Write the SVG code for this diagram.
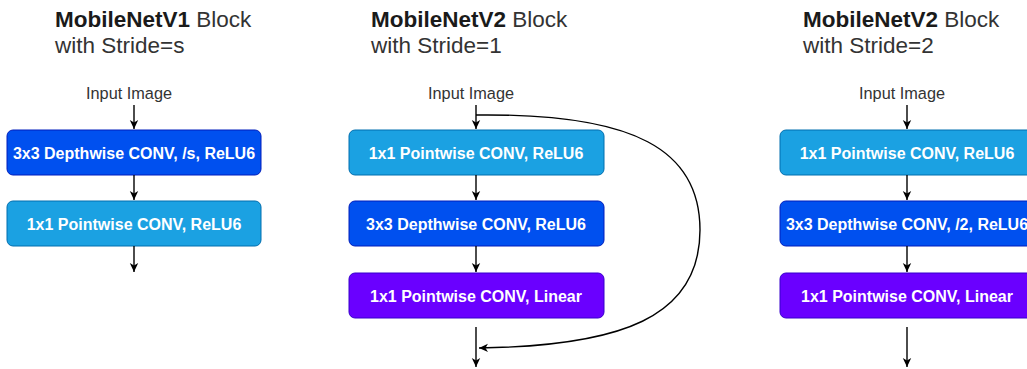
<svg xmlns="http://www.w3.org/2000/svg" width="1027" height="369" viewBox="0 0 1027 369">
<style>
.title{font-family:"Liberation Sans",Arial,sans-serif;font-size:22.5px;fill:#333}
.title .b{font-weight:bold;fill:#1a1a1a}
.in{font-family:"Liberation Sans",Arial,sans-serif;font-size:16.3px;fill:#333;text-anchor:middle}
.lbl{font-family:"Liberation Sans",Arial,sans-serif;font-size:16px;font-weight:bold;fill:#fff;text-anchor:middle}
.dw{fill:#0050EF;stroke:#001DBC;stroke-width:1}
.pw{fill:#1BA1E2;stroke:#006EAF;stroke-width:1}
.lin{fill:#6A00FF;stroke:#3700CC;stroke-width:1}
.c{fill:none;stroke:#000;stroke-width:1.4}
</style>
<defs>
<marker id="ah" markerWidth="10" markerHeight="10" refX="9" refY="5" orient="auto" markerUnits="userSpaceOnUse">
<path d="M0,0.8 L9,5 L0,9.2 L2.5,5 Z" fill="#000"/>
</marker>
</defs>
<g id="titles">
<text class="title" x="55" y="27"><tspan class="b">MobileNetV1</tspan> Block</text>
<text class="title" x="55" y="53">with Stride=s</text>
<text class="title" x="371" y="27"><tspan class="b">MobileNetV2</tspan> Block</text>
<text class="title" x="371" y="53">with Stride=1</text>
<text class="title" x="803" y="27"><tspan class="b">MobileNetV2</tspan> Block</text>
<text class="title" x="803" y="53">with Stride=2</text>
</g>
<g id="inputs">
<text class="in" x="129" y="99">Input Image</text>
<text class="in" x="471" y="99">Input Image</text>
<text class="in" x="902" y="99">Input Image</text>
</g>
<g id="v1-dw"><rect class="dw" x="7" y="130" width="254" height="45" rx="6"/><text class="lbl" x="134" y="158.5">3x3 Depthwise CONV, /s, ReLU6</text></g>
<g id="v1-pw"><rect class="pw" x="7" y="201" width="254" height="45" rx="6"/><text class="lbl" x="134" y="229.5">1x1 Pointwise CONV, ReLU6</text></g>
<g id="v2s1-pw1"><rect class="pw" x="349" y="130" width="255" height="45" rx="6"/><text class="lbl" x="476" y="158.5">1x1 Pointwise CONV, ReLU6</text></g>
<g id="v2s1-dw"><rect class="dw" x="349" y="201" width="255" height="45" rx="6"/><text class="lbl" x="476" y="229.5">3x3 Depthwise CONV, ReLU6</text></g>
<g id="v2s1-pw2"><rect class="lin" x="349" y="273" width="255" height="45" rx="6"/><text class="lbl" x="476" y="301.5">1x1 Pointwise CONV, Linear</text></g>
<g id="v2s2-pw1"><rect class="pw" x="780" y="130" width="255" height="45" rx="6"/><text class="lbl" x="907" y="158.5">1x1 Pointwise CONV, ReLU6</text></g>
<g id="v2s2-dw"><rect class="dw" x="780" y="201" width="255" height="45" rx="6"/><text class="lbl" x="907" y="229.5">3x3 Depthwise CONV, /2, ReLU6</text></g>
<g id="v2s2-pw2"><rect class="lin" x="780" y="273" width="255" height="45" rx="6"/><text class="lbl" x="907" y="301.5">1x1 Pointwise CONV, Linear</text></g>
<g id="connectors">
<path class="c" d="M134,105 V129" marker-end="url(#ah)"/>
<path class="c" d="M134,175 V200" marker-end="url(#ah)"/>
<path class="c" d="M134,246 V272" marker-end="url(#ah)"/>
<path class="c" d="M476,105 V129" marker-end="url(#ah)"/>
<path class="c" d="M476,175 V200" marker-end="url(#ah)"/>
<path class="c" d="M476,246 V272" marker-end="url(#ah)"/>
<path class="c" d="M476,327 V367" marker-end="url(#ah)"/>
<path class="c" d="M476,115 C635,113 700,150 700,230 C700,318 620,346 479,348" marker-end="url(#ah)"/>
<path class="c" d="M907,105 V129" marker-end="url(#ah)"/>
<path class="c" d="M907,175 V200" marker-end="url(#ah)"/>
<path class="c" d="M907,246 V272" marker-end="url(#ah)"/>
<path class="c" d="M907,327 V367" marker-end="url(#ah)"/>
</g>
</svg>
